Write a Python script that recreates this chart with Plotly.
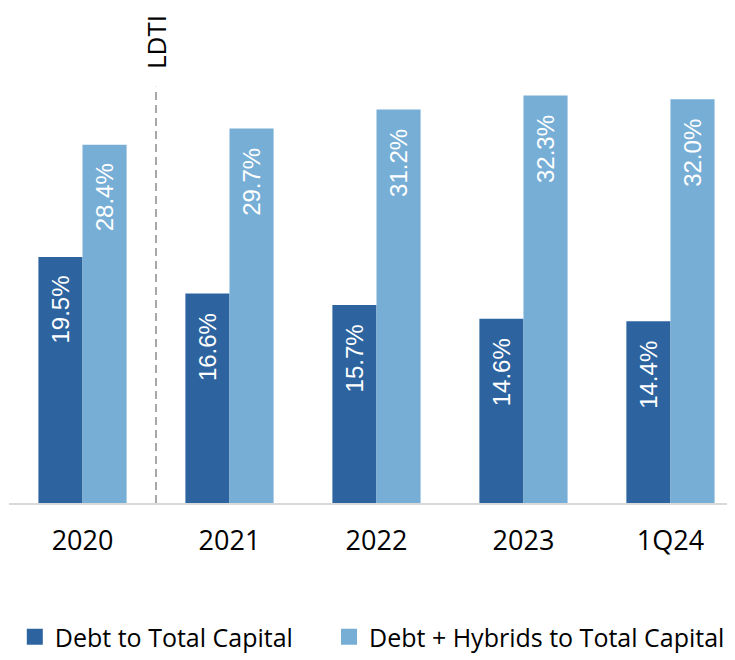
import plotly.graph_objects as go

categories = ["2020", "2021", "2022", "2023", "1Q24"]
debt_to_capital = [19.5, 16.6, 15.7, 14.6, 14.4]
debt_hybrids_to_capital = [28.4, 29.7, 31.2, 32.3, 32.0]
series_names = ["Debt to Total Capital", "Debt + Hybrids to Total Capital"]
marker_label = "LDTI"

DARK = "#2D64A0"
LIGHT = "#77AED6"
FONT = "Open Sans"

fig = go.Figure()
fig.add_trace(go.Bar(x=categories, y=debt_to_capital, name=series_names[0],
                     marker=dict(color=DARK, line=dict(width=0)), showlegend=False))
fig.add_trace(go.Bar(x=categories, y=debt_hybrids_to_capital, name=series_names[1],
                     marker=dict(color=LIGHT, line=dict(width=0)), showlegend=False))
# legend entries with larger square swatches
fig.add_trace(go.Scatter(x=[None], y=[None], mode="markers", name=series_names[0],
                         marker=dict(symbol="square", size=16, color=DARK), legend="legend"))
fig.add_trace(go.Scatter(x=[None], y=[None], mode="markers", name=series_names[1],
                         marker=dict(symbol="square", size=16, color=LIGHT), legend="legend2"))

annotations = []
for i, c in enumerate(categories):
    for vals, shift in ((debt_to_capital, -22), (debt_hybrids_to_capital, 22)):
        annotations.append(dict(
            x=i, y=vals[i], xref="x", yref="y", text=f"{vals[i]:.1f}%",
            textangle=-90, showarrow=False, xshift=shift, yshift=-17,
            xanchor="center", yanchor="top",
            font=dict(family="Liberation Sans", size=24, color="white")))

annotations.append(dict(x=0.5, y=1.0, xref="x", yref="paper", text=marker_label,
                        textangle=-90, showarrow=False, xanchor="center", yanchor="middle",
                        yshift=3, font=dict(family=FONT, size=26, color="black")))

fig.add_shape(type="line", xref="x", yref="y", x0=0.5, x1=0.5, y0=0, y1=33.0,
              line=dict(color="#8c8c8c", width=1.5, dash="8px,5px"))

legend_font = dict(family=FONT, size=25, color="black")
fig.update_layout(
    width=727, height=652,
    margin=dict(l=1, r=0, t=37, b=147),
    paper_bgcolor="white", plot_bgcolor="white",
    barmode="group", bargap=0.4, bargroupgap=0,
    showlegend=True,
    legend=dict(orientation="h", x=0.008, xanchor="left", y=-0.2927, yanchor="middle",
                font=legend_font, itemclick=False, bgcolor="rgba(0,0,0,0)"),
    legend2=dict(orientation="h", x=0.4408, xanchor="left", y=-0.2927, yanchor="middle",
                 font=legend_font, itemclick=False, bgcolor="rgba(0,0,0,0)"),
    xaxis=dict(range=[-0.5, 4.439], showline=True, linecolor="#d9d9d9", linewidth=2,
               ticks="", ticklabelstandoff=13,
               tickfont=dict(family=FONT, size=27, color="black"),
               showgrid=False, fixedrange=True),
    yaxis=dict(range=[0, 36.31], visible=False, showgrid=False, zeroline=False),
    annotations=annotations,
)

fig.write_html("out.html")
